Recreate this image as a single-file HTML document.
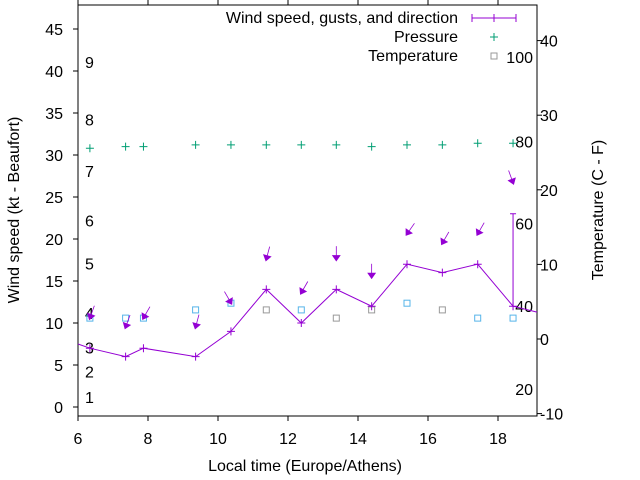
<!DOCTYPE html>
<html><head><meta charset="utf-8"><style>
body{margin:0;background:#fff}
svg{display:block;font-family:"Liberation Sans",sans-serif}
</style></head><body>
<svg id="chart" width="640" height="480" viewBox="0 0 640 480">
<g id="axes"></g>
<g id="marks"></g>
</svg>
<script>
const times=[6.34,7.36,7.87,9.36,10.37,11.38,12.38,13.38,14.39,15.40,16.41,17.42,18.43];
const windSpeed=[7,6,7,6,9,14,10,14,12,17,16,17,12];
const arrowPos=[10.6,9.5,10.6,9.5,12.4,17.6,13.6,17.6,15.5,20.6,19.5,20.6,26.7];
const arrowDir=[20,20,30,15,-30,15,30,0,0,35,30,30,-20];
const pressure=[30.8,31.0,31.0,31.2,31.2,31.2,31.2,31.2,31.0,31.2,31.2,31.4,31.4];
const tempC=[2.8,2.8,2.8,3.9,4.8,3.9,3.9,2.8,3.9,4.8,3.9,2.8,2.8];
const tempGray=[false,false,false,false,false,true,false,true,true,false,true,false,false];
const gustLast=[12,23];
const xTicks=[6,8,10,12,14,16,18];
const yTicks=[0,5,10,15,20,25,30,35,40,45];
const y2Ticks=[-10,0,10,20,30,40];
const beaufort=[[1,1.2],[2,4.2],[3,7.1],[4,11.2],[5,17.1],[6,22.2],[7,28.1],[8,34.2],[9,41.1]];
const fahr=[[100,37.8],[80,26.5],[60,15.5],[40,4.4],[20,-6.7]];
const X=t=>78+(t-6)*35, Y=v=>407-v*8.4, Y2=v=>339-v*7.46;
const L=78,R=537,T=5,B=416,FS=16;
const NS='http://www.w3.org/2000/svg';
function mk(tag,at,par,txt){const e=document.createElementNS(NS,tag);for(const k in at)e.setAttribute(k,at[k]);if(txt!==undefined)e.textContent=txt;par.appendChild(e);return e;}
const ax=document.getElementById('axes'),mg=document.getElementById('marks');
let e=mk('rect',{x:L,y:T,width:R-L,height:B-T,fill:'none',stroke:'#000','stroke-width':1},ax);

xTicks.forEach(t=>{mk('line',{x1:X(t),x2:X(t),y1:B,y2:B+5,stroke:'#000'},ax);mk('line',{x1:X(t),x2:X(t),y1:T,y2:T-5,stroke:'#000'},ax);
 const tx=mk('text',{x:X(t),y:444,'font-size':FS,'text-anchor':'middle'},ax,t);
 });
yTicks.forEach(v=>{mk('line',{x1:L-5,x2:L,y1:Y(v),y2:Y(v),stroke:'#000'},ax);
 const tx=mk('text',{x:63,y:Y(v)+6,'font-size':FS,'text-anchor':'end'},ax,v);
 });
y2Ticks.forEach(v=>{mk('line',{x1:R,x2:R+5,y1:Y2(v),y2:Y2(v),stroke:'#000'},ax);
 const tx=mk('text',{x:540,y:Y2(v)+6,'font-size':FS},ax,v);
 });
beaufort.forEach(b=>{const tx=mk('text',{x:85,y:Y(b[1])+6,'font-size':FS},ax,b[0]);
 });
fahr.forEach(b=>{const tx=mk('text',{x:533,y:Y2(b[1])+6,'font-size':FS,'text-anchor':'end'},ax,b[0]);
 });
e=mk('text',{x:305,y:471,'font-size':FS,'text-anchor':'middle'},ax,'Local time (Europe/Athens)');

e=mk('text',{x:0,y:0,'font-size':FS,'text-anchor':'middle',transform:'translate(19,210) rotate(-90)'},ax,'Wind speed (kt - Beaufort)');

e=mk('text',{x:0,y:0,'font-size':FS,'text-anchor':'middle',transform:'translate(603,210) rotate(-90)'},ax,'Temperature (C - F)');

// legend
e=mk('text',{x:458,y:23,'font-size':FS,'text-anchor':'end'},ax,'Wind speed, gusts, and direction');

mk('path',{d:'M472 18H516M472 14V22M516 14V22M494 14V22',stroke:'#9400d3',fill:'none'},ax);
e=mk('text',{x:458,y:42,'font-size':FS,'text-anchor':'end'},ax,'Pressure');

mk('path',{d:'M490 37H498M494 33V41',stroke:'#009e73'},ax);
e=mk('text',{x:458,y:61,'font-size':FS,'text-anchor':'end'},ax,'Temperature');

mk('rect',{x:491,y:53,width:6,height:6,fill:'none',stroke:'#999'},ax);
// pressure
pressure.forEach((p,i)=>{const m=mk('path',{d:`M${X(times[i])-4} ${Y(p)}h8M${X(times[i])} ${Y(p)-4}v8`,stroke:'#009e73'},mg);
 });
// temperature
tempC.forEach((c,i)=>{const m=mk('rect',{x:X(times[i])-3,y:Y2(c)-3,width:6,height:6,fill:'none',stroke:tempGray[i]?'#999':'#56b4e9'},mg);
 });
// wind line
const pts=[[L,Y(7.5)]].concat(times.map((t,i)=>[X(t),Y(windSpeed[i])])).concat([[R,Y(11.3)]]);
e=mk('polyline',{points:pts.map(p=>p.join(',')).join(' '),fill:'none',stroke:'#9400d3'},mg);

times.forEach((t,i)=>{const m=mk('path',{d:`M${X(t)-4} ${Y(windSpeed[i])}h8M${X(t)} ${Y(windSpeed[i])-4}v8`,stroke:'#9400d3'},mg);
 });
const lt=X(times[times.length-1]);
e=mk('path',{d:`M${lt} ${Y(gustLast[0])}V${Y(gustLast[1])}M${lt-3} ${Y(gustLast[1])}h6`,stroke:'#9400d3'},mg);

// arrows
arrowPos.forEach((v,i)=>{const hx=X(times[i]),hy=Y(v),a=arrowDir[i]*Math.PI/180;
 const ux=-Math.sin(a),uy=Math.cos(a);
 const tx=hx-ux*13,ty=hy-uy*13;
 const g=mk('g',{},mg);
 
 mk('line',{x1:tx,y1:ty,x2:hx,y2:hy,stroke:'#9400d3','stroke-width':0.8},g);
 const px=-uy,py=ux;
 mk('polygon',{points:`${hx+ux*1.5},${hy+uy*1.5} ${hx-ux*3.5+px*3.5},${hy-uy*3.5+py*3.5} ${hx-ux*3.5-px*3.5},${hy-uy*3.5-py*3.5}`,fill:'#9400d3',stroke:'#9400d3'},g);});
</script>
</body></html>
